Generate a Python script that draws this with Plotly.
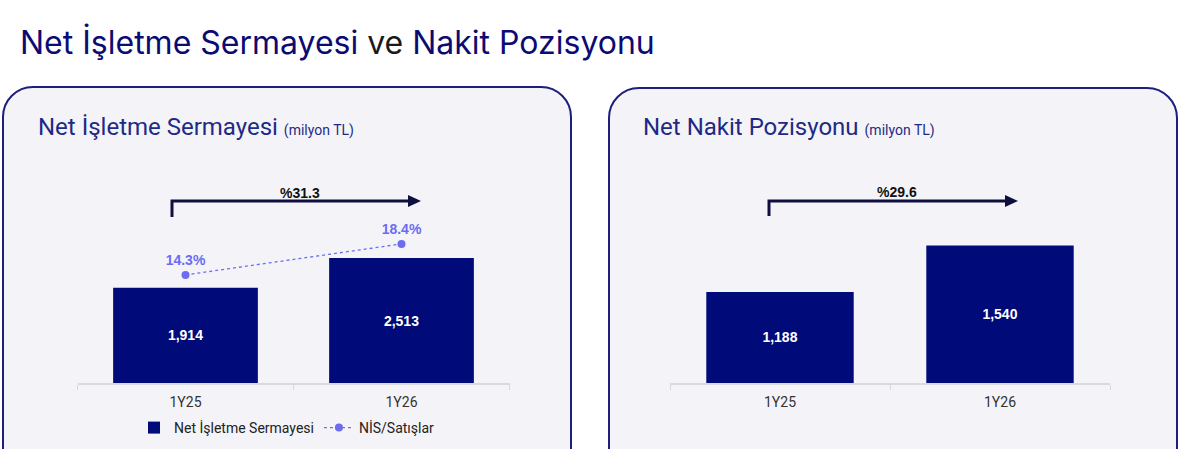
import plotly.graph_objects as go

# ---------------- data ----------------
categories = ["1Y25", "1Y26"]
nis_values = [1914, 2513]            # Net İşletme Sermayesi (milyon TL)
nis_sales_ratio = [14.3, 18.4]       # NİS/Satışlar (%)
cash_values = [1188, 1540]           # Net Nakit Pozisyonu (milyon TL)
cash_axis_min = 500                  # value axis of the right chart starts here
nis_growth_label = "%31.3"
cash_growth_label = "%29.6"

W, H = 1200, 449
NAVY = "#000a78"
LINE_COL = "#6b6cf2"
ARROW_COL = "#0e0f3f"
PANEL_FILL = "#f4f4f8"
PANEL_BORDER = "#1e1f7c"


def px(x):
    return x / W


def py(y):
    return 1 - y / H


fig = go.Figure()

# left panel bars
fig.add_trace(go.Bar(
    x=categories, y=nis_values, name="Net İşletme Sermayesi",
    marker=dict(color=NAVY, line=dict(width=0)),
    texttemplate="<b>%{y:,}</b>", textposition="inside", insidetextanchor="middle",
    textfont=dict(color="white", size=14, family="Liberation Sans"),
    xaxis="x", yaxis="y", width=0.67, showlegend=True,
))
# ratio line
fig.add_trace(go.Scatter(
    x=categories, y=nis_sales_ratio, name="NİS/Satışlar",
    mode="lines+markers+text",
    line=dict(color=LINE_COL, width=1.3, dash="dot"),
    marker=dict(color=LINE_COL, size=8),
    texttemplate="<b>%{y:.1f}%</b>", textposition="top center",
    textfont=dict(color=LINE_COL, size=14, family="Liberation Sans"),
    xaxis="x", yaxis="y2", showlegend=True, cliponaxis=False,
))
# right panel bars (drawn from the axis minimum)
fig.add_trace(go.Bar(
    x=categories, y=[v - cash_axis_min for v in cash_values], base=cash_axis_min,
    name="Net Nakit Pozisyonu",
    marker=dict(color=NAVY, line=dict(width=0)),
    text=[f"<b>{v:,}</b>" for v in cash_values], texttemplate="%{text}",
    textposition="inside", insidetextanchor="middle",
    textfont=dict(color="white", size=14, family="Liberation Sans"),
    xaxis="x2", yaxis="y3", width=0.67, showlegend=False,
))

# ---------------- axes ----------------
y_bottom, y_top = py(383), py(183)
xcommon = dict(
    type="category", showgrid=False, showline=True, linecolor="#d9d9d9", linewidth=1.5,
    ticks="outside", tickson="boundaries", ticklen=5, tickcolor="#d9d9d9",
    tickfont=dict(size=14, color="#333333", family="Roboto"), zeroline=False,
    ticklabelstandoff=5, fixedrange=True,
)
fig.update_layout(
    xaxis=dict(domain=[px(77.5), px(509.5)], anchor="y", **xcommon),
    yaxis=dict(domain=[y_bottom, y_top], range=[0, 4024], visible=False, fixedrange=True),
    yaxis2=dict(overlaying="y", range=[0, 26.46], visible=False, fixedrange=True),
    xaxis2=dict(domain=[px(670), px(1110)], anchor="y3", **xcommon),
    yaxis3=dict(domain=[y_bottom, y_top], range=[cash_axis_min, 2012], visible=False,
                anchor="x2", fixedrange=True),
)


# ---------------- panels ----------------
def panel_path(x0, ytop, x1, ybot, r):
    k = 0.5523 * r
    pts = [
        f"M {px(x0)},{py(ybot)}",
        f"L {px(x0)},{py(ytop + r)}",
        f"C {px(x0)},{py(ytop + r - k)} {px(x0 + r - k)},{py(ytop)} {px(x0 + r)},{py(ytop)}",
        f"L {px(x1 - r)},{py(ytop)}",
        f"C {px(x1 - r + k)},{py(ytop)} {px(x1)},{py(ytop + r - k)} {px(x1)},{py(ytop + r)}",
        f"L {px(x1)},{py(ybot)}",
    ]
    return " ".join(pts)


shapes = []
for (x0, ytop, x1) in [(3, 87, 571), (609, 88, 1177)]:
    shapes.append(dict(type="path", path=panel_path(x0, ytop, x1, 470, 30) + " Z",
                       xref="paper", yref="paper", fillcolor=PANEL_FILL,
                       line=dict(width=0), layer="below"))
    shapes.append(dict(type="path", path=panel_path(x0, ytop, x1, 470, 30),
                       xref="paper", yref="paper", fillcolor="rgba(0,0,0,0)",
                       line=dict(color=PANEL_BORDER, width=2), layer="below"))

# growth arrows (bracket + head)
for (xa, xb, ylow, yline) in [(172, 410, 217, 201), (769, 1007, 216, 201)]:
    shapes.append(dict(type="path",
                       path=f"M {px(xa)},{py(ylow)} L {px(xa)},{py(yline)} L {px(xb)},{py(yline)}",
                       xref="paper", yref="paper", line=dict(color=ARROW_COL, width=3)))
    shapes.append(dict(type="path",
                       path=f"M {px(xb - 2)},{py(yline - 6)} L {px(xb + 11)},{py(yline)} L {px(xb - 2)},{py(yline + 6)} Z",
                       xref="paper", yref="paper", fillcolor=ARROW_COL, line=dict(width=0)))

annotations = [
    dict(text="Net İşletme Sermayesi <span style='color:#1a1a1a'>ve</span> Nakit Pozisyonu",
         x=px(18), y=py(42), xref="paper", yref="paper", xanchor="left", yanchor="middle",
         showarrow=False, font=dict(size=32, color="#0b0b73", family="Inter")),
    dict(text="Net İşletme Sermayesi <span style='font-size:14px'>(milyon TL)</span>",
         x=px(36), y=py(127), xref="paper", yref="paper", xanchor="left", yanchor="middle",
         showarrow=False, font=dict(size=24, color="#1f2a85", family="Roboto")),
    dict(text="Net Nakit Pozisyonu <span style='font-size:14px'>(milyon TL)</span>",
         x=px(641), y=py(127), xref="paper", yref="paper", xanchor="left", yanchor="middle",
         showarrow=False, font=dict(size=24, color="#1f2a85", family="Roboto")),
    dict(text=f"<b>{nis_growth_label}</b>", x=px(300), y=py(193), xref="paper", yref="paper",
         xanchor="center", yanchor="middle", showarrow=False,
         font=dict(size=14, color="#111111", family="Liberation Sans")),
    dict(text=f"<b>{cash_growth_label}</b>", x=px(897), y=py(192), xref="paper", yref="paper",
         xanchor="center", yanchor="middle", showarrow=False,
         font=dict(size=14, color="#111111", family="Liberation Sans")),
]

fig.update_layout(
    width=W, height=H, margin=dict(l=0, r=0, t=0, b=0),
    paper_bgcolor="white", plot_bgcolor="rgba(0,0,0,0)",
    shapes=shapes, annotations=annotations,
    legend=dict(orientation="h", x=px(287), xanchor="center", y=py(428), yanchor="middle",
                bgcolor="rgba(0,0,0,0)", font=dict(size=14, color="#222222", family="Roboto"),
                itemwidth=30, traceorder="normal"),
    barmode="group", showlegend=True,
)

fig.write_html("out.html", config={"displayModeBar": False},
               post_script="document.body.style.margin='0px';")
